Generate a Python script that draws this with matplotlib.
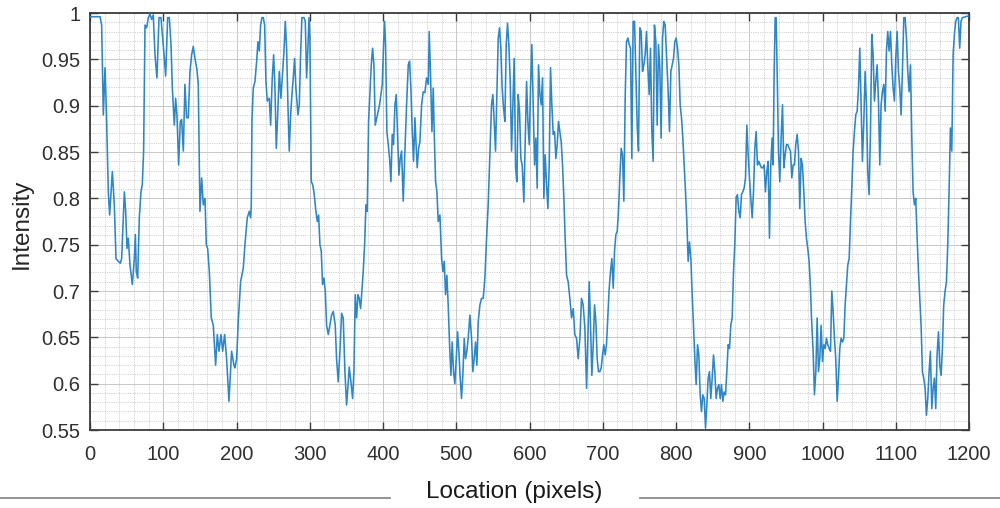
import matplotlib
matplotlib.use("Agg")
import matplotlib.pyplot as plt
from matplotlib.lines import Line2D
from matplotlib.ticker import MultipleLocator

# ---------------- data ----------------
location = [
    0, 13.7, 15.9, 18.2, 20.5, 22.3, 25.0, 26.8, 28.7, 30.5, 33.2, 35.5, 38.7, 41.4, 43.2, 46.9,
    48.7, 50.5, 52.3, 54.6, 57.8, 60.5, 61.9, 63.2, 65.1, 67.3, 69.6, 71.4, 73.2, 75.1, 77.3, 79.6,
    81.9, 84.2, 86.4, 88.7, 91.4, 94.2, 96.9, 99.2, 101.5, 103.3, 106.0, 108.3, 110.6, 112.4, 115.1,
    116.9, 118.7, 121.0, 123.3, 125.1, 127.4, 129.6, 131.9, 134.2, 136.5, 138.8, 141.0, 143.3, 146.0,
    147.8, 150.1, 152.4, 154.7, 157.0, 158.8, 160.6, 162.9, 165.6, 168.3, 171.5, 173.8, 176.1, 178.8,
    181.1, 183.8, 186.5, 189.7, 193.3, 196.5,
    197.9, 200.2, 202.4, 205.6, 209.3, 211.5, 214.7, 217.5, 219.3, 220.2, 221.1, 222.9, 225.2, 227.5,
    229.3, 231.1, 232.9, 234.7, 236.6, 238.4, 240.2, 242.0, 244.8, 246.6, 248.8, 250.7, 252.5, 254.3,
    256.1, 258.4, 260.7, 263.0, 264.8, 266.6, 268.4, 270.2, 272.0, 273.9, 275.7, 277.5, 279.3, 281.1,
    283.9, 285.7, 287.5, 289.3, 292.1, 293.9, 295.7, 297.5, 298.9, 300.2, 302.1, 303.9, 305.7, 308.4,
    310.3, 312.1, 313.9, 315.7, 317.5, 319.4, 321.2, 323.0, 325.3, 327.5, 329.8, 332.1, 334.8, 336.6,
    338.9, 341.2, 343.5, 345.7, 348.0, 350.3, 352.6, 353.9, 356.2, 358.5, 360.3, 362.1, 364.0, 365.8,
    367.6, 369.4, 371.2, 373.0, 374.9, 376.7, 378.5, 380.3, 382.1, 384.0, 385.8, 387.6, 389.4,
    393.5, 395.3, 397.2, 399.0, 400.8, 402.2, 403.5, 405.3, 407.2, 409.0, 410.8, 412.6, 414.4, 416.3,
    418.1, 419.9, 421.7, 423.5, 425.4, 427.6, 429.9, 432.2, 434.5, 436.3, 438.1, 439.9, 441.7, 443.6,
    445.4, 446.7, 448.6, 450.4, 452.7, 454.9, 457.2, 459.5, 461.8, 463.1, 465.0, 466.8, 468.6, 470.0,
    471.8, 473.6, 475.4, 477.7, 480.0, 481.8, 483.6, 485.4, 487.2, 489.0, 490.9, 492.7, 494.5, 496.3,
    498.1, 500.0, 501.8, 503.6, 505.4, 507.2, 509.0, 510.9, 512.7, 514.5, 516.3, 518.6, 520.9, 522.7,
    524.5, 526.4, 528.2, 530.0, 532.3, 534.5, 536.8, 539.1, 541.4, 543.6, 545.9, 548.2, 550.0, 551.8,
    553.6, 555.5, 557.3, 559.1, 560.9, 562.7, 564.6, 566.4, 568.2, 570.0, 571.8, 573.7, 575.5, 577.3,
    579.1, 581.0, 582.8, 584.6, 586.4, 588.2, 590.0,
    592.3, 594.1, 596.0, 597.8, 599.6, 601.4, 603.2, 605.1, 606.9, 608.7, 610.5, 612.3, 614.2, 616.0,
    617.8, 619.6, 621.4, 623.3, 625.1, 626.9, 628.7, 630.5, 632.4, 634.2, 636.0, 637.8, 639.6, 641.5,
    643.3, 645.1, 646.9, 648.7, 650.6, 652.8, 655.1, 657.4, 659.7, 661.9, 664.2, 666.5, 668.8, 671.0,
    673.3, 675.6, 677.9, 679.7, 681.5, 683.3, 685.1, 687.0, 688.8, 690.6, 692.4, 694.2, 696.0, 697.9,
    699.7, 701.5, 703.3, 705.1, 707.0, 708.8, 710.6, 712.4, 714.3, 716.1, 717.9, 719.7, 721.5, 723.3,
    725.2, 727.0, 728.8, 730.6, 732.4, 734.3, 736.1, 737.9, 739.7, 741.5, 743.4, 745.2, 747.0, 748.8,
    750.6, 752.5, 754.3, 756.1, 757.9, 759.7, 761.6, 763.4, 765.2, 767.0, 768.8, 770.6, 772.5, 774.3,
    776.1, 777.9, 779.7, 781.6, 783.4, 785.2,
    789.3, 791.1, 793.0, 794.8, 796.6, 798.4, 800.2, 802.1, 803.9, 805.7, 807.5, 809.3, 811.2, 813.0,
    814.8, 816.6, 818.4, 820.3, 822.1, 823.9, 825.7, 827.5, 829.4, 831.2, 833.0, 834.8, 836.6, 838.5,
    840.3, 842.1, 843.9, 845.7, 847.5, 849.4, 851.2, 853.0, 854.8, 856.6, 858.5, 860.3, 862.1, 863.9,
    865.7, 867.6, 869.4, 871.2, 873.0, 874.8, 876.7, 878.5, 880.3, 882.1, 883.9, 885.8, 887.6, 889.4,
    891.2, 893.0, 894.9, 896.7, 898.5, 900.3, 902.1, 904.0, 905.8, 907.6, 909.4, 911.2, 913.1, 914.9,
    916.7, 918.5, 920.3, 922.1, 924.0, 925.8, 927.6, 929.4, 931.2, 932.6, 934.0, 935.4, 936.7, 938.1,
    939.9, 941.7, 943.5, 945.4, 947.2, 949.0, 950.8, 952.6, 954.5, 956.3, 958.1, 959.9, 961.7, 963.5,
    965.4, 967.2, 969.0, 970.8, 972.6, 974.5, 976.3, 978.1, 979.9, 981.7, 983.6,
    985.0, 987.2, 989.0, 990.9, 992.7, 994.5, 996.3, 998.1, 1000.0, 1001.8, 1003.6, 1005.4, 1007.2,
    1009.1, 1010.9, 1012.7, 1014.5, 1016.3, 1018.1, 1020.0, 1021.8, 1023.6, 1025.4, 1027.3, 1029.1,
    1030.9, 1032.7, 1034.5, 1036.4, 1038.2, 1040.0, 1041.8, 1043.6, 1045.4, 1047.3, 1049.1, 1050.9,
    1052.7, 1054.5, 1056.4, 1058.2, 1060.0, 1061.8, 1063.6, 1065.5, 1067.3, 1069.1, 1070.9, 1072.7,
    1074.6, 1076.4, 1078.2, 1080.0, 1081.8, 1083.7, 1085.5, 1087.3, 1089.1, 1090.9, 1092.8, 1094.6,
    1096.4, 1098.2, 1100.0, 1101.9, 1103.7, 1105.5, 1107.3, 1109.1, 1111.0, 1112.8, 1114.6, 1116.4,
    1118.2, 1120.1, 1121.9, 1123.7, 1125.5, 1127.3, 1129.2, 1131.0, 1132.8, 1134.6, 1136.4, 1138.2,
    1140.1, 1141.9, 1143.7, 1145.5, 1147.3, 1149.2, 1151.0, 1152.8, 1154.6, 1156.4, 1158.3, 1160.1,
    1161.9, 1163.7, 1165.5, 1167.4, 1169.2, 1171.0, 1172.8, 1174.6, 1176.5, 1178.3, 1180.1, 1181.9,
    1183.7, 1185.5, 1187.3, 1189.1, 1191.0, 1195.6, 1200.0,
]

intensity = [
    0.996, 0.996, 0.987, 0.890, 0.941, 0.897, 0.807, 0.782, 0.807, 0.829, 0.793, 0.735, 0.732, 0.730,
    0.735, 0.807, 0.786, 0.746, 0.757, 0.728, 0.707, 0.735, 0.761, 0.721, 0.714, 0.779, 0.807, 0.815,
    0.851, 0.987, 0.984, 0.995, 0.999, 0.993, 0.998, 0.955, 0.930, 0.995, 0.995, 0.973, 0.951, 0.932,
    0.995, 0.995, 0.966, 0.919, 0.879, 0.908, 0.890, 0.836, 0.883, 0.885, 0.851, 0.923, 0.887, 0.887,
    0.937, 0.955, 0.964, 0.951, 0.939, 0.923, 0.786, 0.822, 0.793, 0.800, 0.750, 0.746, 0.721, 0.671,
    0.663, 0.620, 0.653, 0.635, 0.653, 0.635, 0.653, 0.627, 0.581, 0.635, 0.620,
    0.617, 0.627, 0.667, 0.710, 0.725, 0.750, 0.779, 0.786, 0.779, 0.793, 0.883, 0.919, 0.926, 0.948,
    0.969, 0.959, 0.987, 0.995, 0.995, 0.987, 0.926, 0.905, 0.908, 0.879, 0.930, 0.955, 0.919, 0.854,
    0.887, 0.937, 0.908, 0.937, 0.959, 0.991, 0.962, 0.901, 0.851, 0.890, 0.912, 0.930, 0.951, 0.919,
    0.890, 0.901, 0.955, 0.995, 0.995, 0.991, 0.930, 0.962, 0.995, 0.973, 0.818, 0.815, 0.807, 0.786,
    0.775, 0.782, 0.750, 0.743, 0.707, 0.714, 0.700, 0.663, 0.653, 0.663, 0.674, 0.678, 0.663, 0.627,
    0.602, 0.635, 0.676, 0.671, 0.613, 0.577, 0.602, 0.618, 0.602, 0.584, 0.613, 0.696, 0.671, 0.696,
    0.692, 0.681, 0.700, 0.721, 0.750, 0.793, 0.786, 0.883, 0.912, 0.944, 0.962, 0.944, 0.879,
    0.894, 0.901, 0.912, 0.923, 0.966, 0.991, 0.966, 0.872, 0.858, 0.843, 0.818, 0.869, 0.858, 0.901,
    0.912, 0.869, 0.825, 0.843, 0.851, 0.797, 0.851, 0.901, 0.944, 0.948, 0.919, 0.872, 0.840, 0.887,
    0.854, 0.833, 0.854, 0.861, 0.901, 0.915, 0.914, 0.930, 0.923, 0.980, 0.930, 0.872, 0.919, 0.869,
    0.818, 0.807, 0.775, 0.782, 0.735, 0.721, 0.732, 0.696, 0.717, 0.685, 0.642, 0.609, 0.645, 0.613,
    0.600, 0.627, 0.656, 0.635, 0.606, 0.584, 0.609, 0.649, 0.627, 0.635, 0.649, 0.674, 0.649, 0.613,
    0.627, 0.645, 0.620, 0.667, 0.685, 0.692, 0.692, 0.714, 0.757, 0.793, 0.847, 0.901, 0.912, 0.883,
    0.851, 0.915, 0.973, 0.984, 0.962, 0.919, 0.897, 0.883, 0.966, 0.989, 0.966, 0.926, 0.851, 0.901,
    0.951, 0.833, 0.818, 0.912, 0.894, 0.843, 0.836,
    0.796, 0.858, 0.926, 0.883, 0.858, 0.919, 0.966, 0.901, 0.836, 0.865, 0.811, 0.944, 0.912, 0.901,
    0.930, 0.800, 0.847, 0.815, 0.789, 0.836, 0.941, 0.901, 0.869, 0.872, 0.843, 0.858, 0.883, 0.872,
    0.861, 0.836, 0.800, 0.757, 0.717, 0.710, 0.692, 0.671, 0.681, 0.653, 0.649, 0.627, 0.649, 0.692,
    0.685, 0.660, 0.595, 0.649, 0.710, 0.663, 0.609, 0.642, 0.685, 0.667, 0.627, 0.613, 0.613, 0.617,
    0.631, 0.642, 0.631, 0.642, 0.674, 0.703, 0.721, 0.735, 0.703, 0.743, 0.761, 0.764, 0.786, 0.822,
    0.854, 0.847, 0.797, 0.908, 0.969, 0.973, 0.966, 0.962, 0.843, 0.991, 0.991, 0.937, 0.879, 0.851,
    0.984, 0.980, 0.937, 0.944, 0.955, 0.980, 0.941, 0.912, 0.962, 0.872, 0.840, 0.987, 0.969, 0.879,
    0.966, 0.941, 0.865, 0.973, 0.991, 0.987,
    0.915, 0.872, 0.937, 0.944, 0.951, 0.969, 0.973, 0.962, 0.944, 0.901, 0.887, 0.865, 0.836, 0.807,
    0.775, 0.732, 0.753, 0.735, 0.696, 0.663, 0.627, 0.599, 0.642, 0.631, 0.588, 0.570, 0.588, 0.584,
    0.552, 0.577, 0.606, 0.613, 0.584, 0.606, 0.631, 0.613, 0.584, 0.595, 0.599, 0.584, 0.599, 0.581,
    0.591, 0.588, 0.613, 0.642, 0.638, 0.663, 0.671, 0.721, 0.750, 0.801, 0.804, 0.786, 0.779, 0.804,
    0.807, 0.811, 0.822, 0.879, 0.847, 0.822, 0.800, 0.779, 0.807, 0.854, 0.872, 0.836, 0.840, 0.836,
    0.833, 0.833, 0.836, 0.807, 0.829, 0.840, 0.757, 0.836, 0.865, 0.836, 0.937, 0.995, 0.995, 0.937,
    0.851, 0.818, 0.865, 0.901, 0.833, 0.847, 0.858, 0.858, 0.854, 0.851, 0.822, 0.836, 0.836, 0.858,
    0.869, 0.851, 0.789, 0.843, 0.836, 0.807, 0.775, 0.757, 0.746, 0.732, 0.703,
    0.671, 0.635, 0.588, 0.613, 0.671, 0.613, 0.627, 0.663, 0.624, 0.642, 0.638, 0.649, 0.642,
    0.638, 0.635, 0.700, 0.678, 0.649, 0.627, 0.581, 0.606, 0.638, 0.649, 0.645, 0.649,
    0.685, 0.707, 0.728, 0.735, 0.775, 0.811, 0.851, 0.872, 0.890, 0.894, 0.919, 0.962,
    0.901, 0.840, 0.883, 0.937, 0.901, 0.829, 0.804, 0.872, 0.977, 0.955, 0.905, 0.926,
    0.944, 0.905, 0.836, 0.901, 0.915, 0.923, 0.894, 0.959, 0.980, 0.959, 0.980, 0.944,
    0.919, 0.905, 0.951, 0.980, 0.937, 0.919, 0.890, 0.937, 0.995, 0.995, 0.973, 0.937,
    0.915, 0.944, 0.865, 0.807, 0.793, 0.800, 0.757, 0.721, 0.692, 0.663, 0.613, 0.606,
    0.595, 0.566, 0.584, 0.613, 0.635, 0.573, 0.595, 0.606, 0.573, 0.631, 0.656, 0.620,
    0.609, 0.638, 0.685, 0.700, 0.710, 0.750, 0.807, 0.876, 0.851, 0.955, 0.977, 0.991,
    0.995, 0.995, 0.962, 0.991, 0.995, 0.996, 0.997,
]

x_ticks = list(range(0, 1201, 100))
y_ticks = [0.55, 0.6, 0.65, 0.7, 0.75, 0.8, 0.85, 0.9, 0.95, 1.0]
y_tick_labels = ["0.55", "0.6", "0.65", "0.7", "0.75", "0.8", "0.85", "0.9", "0.95", "1"]
x_label = "Location (pixels)"
y_label = "Intensity"

# ---------------- figure ----------------
plt.rcParams["font.family"] = ["Liberation Sans", "DejaVu Sans"]

fig = plt.figure(figsize=(10, 5.08), dpi=100)
ax = fig.add_axes([0.090, 0.1535, 0.879, 0.8209])

ax.plot(location, intensity, color="#2e86c4", linewidth=1.15, zorder=3)

ax.set_xlim(0, 1200)
ax.set_ylim(0.55, 1.0)
ax.set_xticks(x_ticks)
ax.set_xticklabels([str(t) for t in x_ticks])
ax.set_yticks(y_ticks)
ax.set_yticklabels(y_tick_labels)
ax.xaxis.set_minor_locator(MultipleLocator(20))
ax.yaxis.set_minor_locator(MultipleLocator(0.01))

ax.grid(which="major", color="#c8c8c8", linewidth=0.7, linestyle="-", zorder=0)
ax.grid(which="minor", color="#d0d0d0", linewidth=0.7, linestyle=(0, (1.2, 1.2)), zorder=0)
ax.set_axisbelow(True)

for s in ax.spines.values():
    s.set_color("#3c3c3c")
    s.set_linewidth(1.3)

ax.tick_params(which="major", direction="in", length=5.5, width=1.0, color="#3c3c3c",
               top=True, right=True, labelsize=14.5, labelcolor="#303030")
ax.tick_params(axis="x", which="major", pad=11)
ax.tick_params(axis="y", which="major", pad=7)
ax.tick_params(which="minor", length=0, top=True, right=True)

fig.text(0.022, 1 - 224 / 508, y_label, rotation=90, ha="center", va="center",
         fontsize=17.5, color="#262626")
fig.text(0.514, 1 - 492 / 508, x_label, ha="center", va="center",
         fontsize=17.5, color="#1a1a1a")

yl = 1 - 497.5 / 508
fig.add_artist(Line2D([0.0, 0.39], [yl, yl], transform=fig.transFigure,
                      color="#808080", linewidth=1.2))
fig.add_artist(Line2D([0.64, 1.0], [yl, yl], transform=fig.transFigure,
                      color="#808080", linewidth=1.2))

fig.savefig("out.png", dpi=100)
